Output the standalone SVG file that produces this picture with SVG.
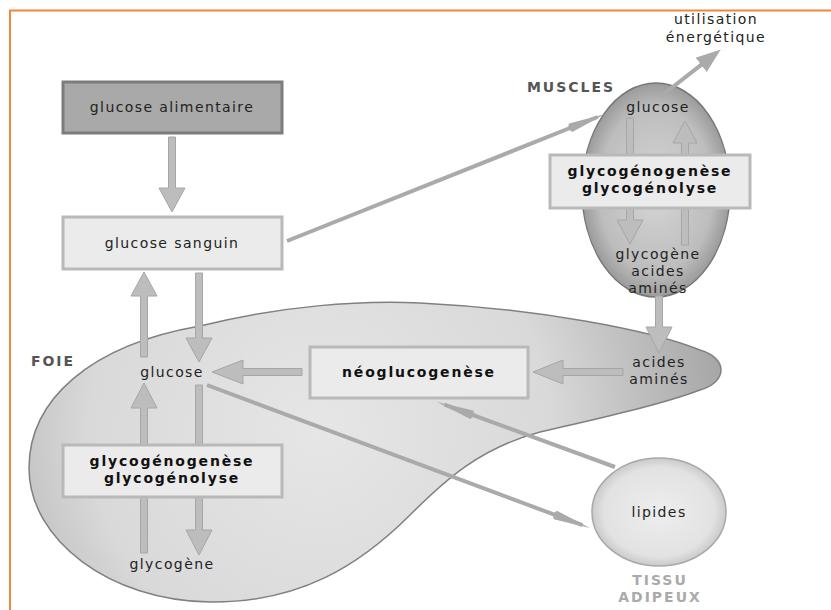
<svg xmlns="http://www.w3.org/2000/svg" width="831" height="610" viewBox="0 0 831 610">
<style>
text{font-family:"DejaVu Sans","Liberation Sans",sans-serif;text-anchor:middle}
.t{font-size:14px;fill:#222;letter-spacing:1.4px}
.b{font-size:14px;font-weight:bold;fill:#111;letter-spacing:1.8px}
.lab{font-size:14px;font-weight:bold;fill:#555;letter-spacing:2px}
.lab2{font-size:14px;font-weight:bold;fill:#aaa;letter-spacing:2px}
.arr{fill:#bdbdbd;stroke:#a6a6a6;stroke-width:1}
.thin{stroke:#aaa;stroke-width:4;fill:none}
.box{fill:#ebebeb;stroke:#b9b9b9;stroke-width:3}
.dbox{fill:#a9a9a9;stroke:#7c7c7c;stroke-width:3}
</style>
<defs>
<radialGradient id="gLiver" gradientUnits="userSpaceOnUse" cx="320" cy="430" r="420">
<stop offset="0" stop-color="#e6e6e6"/><stop offset="0.55" stop-color="#d9d9d9"/><stop offset="1" stop-color="#a2a2a2"/>
</radialGradient>
<radialGradient id="gMus" cx="0.5" cy="0.5" r="0.55">
<stop offset="0" stop-color="#d6d6d6"/><stop offset="0.7" stop-color="#bdbdbd"/><stop offset="1" stop-color="#8c8c8c"/>
</radialGradient>
<radialGradient id="gLip" cx="0.5" cy="0.5" r="0.55">
<stop offset="0" stop-color="#eeeeee"/><stop offset="0.75" stop-color="#e2e2e2"/><stop offset="1" stop-color="#bdbdbd"/>
</radialGradient>
<marker id="mThin" markerUnits="userSpaceOnUse" markerWidth="44" markerHeight="16" refX="32" refY="8" orient="auto">
<path d="M0,8 L3,3.5 L40,8 L3,12.5 Z" fill="#aaa"/>
</marker>
<marker id="mWide" markerUnits="userSpaceOnUse" markerWidth="28" markerHeight="20" refX="2" refY="10" orient="auto">
<path d="M0,1 L25,10 L0,19 Z" fill="#aaa"/>
</marker>
</defs>
<rect width="831" height="610" fill="#fff"/>
<path d="M10,612 L10,10.5 L833,10.5" fill="none" stroke="#f0883a" stroke-width="2"/>

<g id="foie">
<path d="M29,468 C29,400 90,345 200,326 C280,306 360,300 420,303 C540,309 650,330 700,350 C728,358 728,382 700,390 C660,405 600,418 540,432 C480,448 445,480 410,515 C360,565 300,603 210,602 C110,601 29,540 29,468 Z" fill="url(#gLiver)" stroke="#808080" stroke-width="1.5"/>
<text class="lab" x="53" y="366">FOIE</text>
</g>
<g id="muscles">
<ellipse cx="656" cy="190" rx="74" ry="107" fill="url(#gMus)" stroke="#777" stroke-width="1.5"/>
<text class="lab" x="571" y="92">MUSCLES</text>
</g>
<g id="tissu-adipeux">
<ellipse cx="659" cy="512" rx="67" ry="54" fill="url(#gLip)" stroke="#a8a8a8" stroke-width="1.5"/>
<text class="t" x="659" y="517">lipides</text>
<text class="lab2" x="660" y="585">TISSU</text>
<text class="lab2" x="660" y="602">ADIPEUX</text>
</g>

<g id="connectors">
<polygon class="arr" points="168.5,137 175.5,137 175.5,188 185,188 172,212 159,188 168.5,188"/>
<polygon class="arr" points="144,272 157,296 147.5,296 147.5,357 140.5,357 140.5,296 131,296"/>
<polygon class="arr" points="195.5,273 202.5,273 202.5,338 212,338 199,362 186,338 195.5,338"/>
<polygon class="arr" points="212,372 243,360 243,368.5 302,368.5 302,375.5 243,375.5 243,384"/>
<polygon class="arr" points="144,383 157,408 147.5,408 147.5,553 140.5,553 140.5,408 131,408"/>
<polygon class="arr" points="195.5,385 202.5,385 202.5,530 212,530 199,555 186,530 195.5,530"/>
<polygon class="arr" points="626.5,118 633.5,118 633.5,220 643,220 630,244 617,220 626.5,220"/>
<polygon class="arr" points="685,121 697,143 688.5,143 688.5,245 681.5,245 681.5,143 673,143"/>
<polygon class="arr" points="655.5,296 662.5,296 662.5,327 672,327 659,353 646,327 655.5,327"/>
<polygon class="arr" points="533,372 563,360 563,368.5 623,368.5 623,375.5 563,375.5 563,384"/>
<line class="thin" x1="287" y1="241" x2="597.6" y2="117" marker-end="url(#mThin)"/>
<line class="thin" x1="207" y1="385" x2="582.5" y2="525.2" marker-end="url(#mThin)"/>
<line class="thin" x1="615" y1="467" x2="444.5" y2="404.7" marker-end="url(#mThin)"/>
<line class="thin" x1="660" y1="97" x2="702.7" y2="63.6" marker-end="url(#mWide)"/>
</g>

<g id="glucose-alimentaire">
<rect class="dbox" x="63" y="82" width="219" height="51"/>
<text class="t" x="172" y="112">glucose alimentaire</text>
</g>
<g id="glucose-sanguin">
<rect class="box" x="63" y="217" width="219" height="52"/>
<text class="t" x="172" y="248">glucose sanguin</text>
</g>
<g id="utilisation">
<text class="t" x="716" y="24">utilisation</text>
<text class="t" x="716" y="42">énergétique</text>
</g>
<g id="glucose-muscle">
<text class="t" x="658" y="112">glucose</text>
</g>
<g id="glyco-muscle">
<rect class="box" x="550" y="155" width="200" height="53"/>
<text class="b" x="650" y="176">glycogénogenèse</text>
<text class="b" x="650" y="193">glycogénolyse</text>
</g>
<g id="glycogene-muscle">
<text class="t" x="658" y="259">glycogène</text>
<text class="t" x="658" y="276">acides</text>
<text class="t" x="658" y="293">aminés</text>
</g>
<g id="glucose-foie">
<text class="t" x="172" y="377">glucose</text>
</g>
<g id="neoglucogenese">
<rect class="box" x="310" y="347" width="218" height="51"/>
<text class="b" x="419" y="377">néoglucogenèse</text>
</g>
<g id="acides-amines-foie">
<text class="t" x="659" y="367">acides</text>
<text class="t" x="659" y="384">aminés</text>
</g>
<g id="glyco-foie">
<rect class="box" x="63" y="445" width="219" height="52"/>
<text class="b" x="172" y="466">glycogénogenèse</text>
<text class="b" x="172" y="483">glycogénolyse</text>
</g>
<g id="glycogene-foie">
<text class="t" x="172" y="569">glycogène</text>
</g>
</svg>
